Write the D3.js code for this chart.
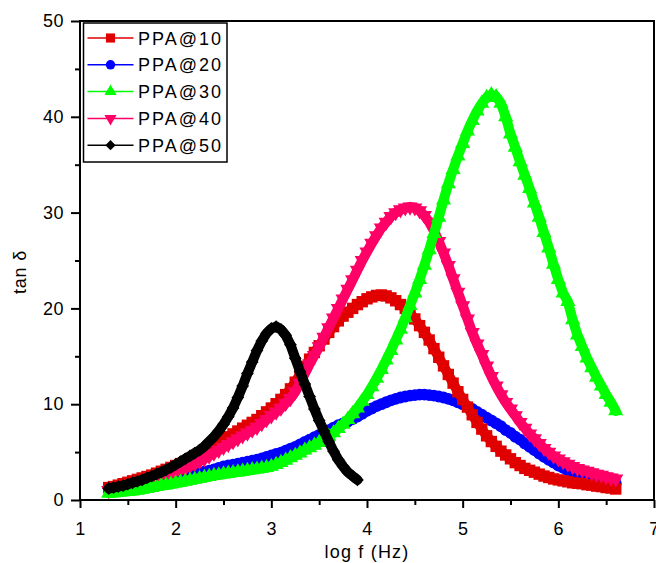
<!DOCTYPE html>
<html>
<head>
<meta charset="utf-8">
<script src="https://cdn.jsdelivr.net/npm/d3@7"></script>
<style>
  body { margin: 0; background: #fff; }
  text { font-family: "Liberation Sans", Arial, sans-serif; fill: #000; }
</style>
</head>
<body>
<div id="chart"></div>
<script>

// log f grid (Hz), common to all curves
var logF = [1.30,1.35,1.40,1.45,1.50,1.55,1.60,1.65,1.70,1.75,1.80,1.85,1.90,1.95,
	2.00,2.05,2.10,2.15,2.20,2.25,2.30,2.35,2.40,2.45,2.50,2.55,2.60,2.65,2.70,2.75,
	2.80,2.85,2.90,2.95,3.00,3.05,3.10,3.15,3.20,3.25,3.30,3.35,3.40,3.45,3.50,3.55,
	3.60,3.65,3.70,3.75,3.80,3.85,3.90,3.95,4.00,4.05,4.10,4.15,4.20,4.25,4.30,4.35,
	4.40,4.45,4.50,4.55,4.60,4.65,4.70,4.75,4.80,4.85,4.90,4.95,5.00,5.05,5.10,5.15,
	5.20,5.25,5.30,5.35,5.40,5.45,5.50,5.55,5.60,5.65,5.70,5.75,5.80,5.85,5.90,5.95,
	6.00,6.05,6.10,6.15,6.20,6.25,6.30,6.35,6.40,6.45,6.50,6.55,6.60]

var ppa10 = [1.3,1.4,1.55,1.7,1.85,2.0,2.15,2.3,2.45,2.6,2.8,3.0,3.2,3.4,
	3.6,3.8,4.0,4.2,4.5,4.8,5.1,5.4,5.7,6.0,6.3,6.6,6.9,7.2,7.5,7.8,
	8.1,8.4,8.8,9.2,9.6,10.05,10.5,11.0,11.6,12.3,13.1,13.9,14.7,15.4,16.1,16.8,
	17.5,18.1,18.7,19.2,19.6,20.0,20.4,20.7,21.0,21.2,21.35,21.4,21.3,21.1,20.8,20.4,
	20.0,19.5,18.9,18.2,17.5,16.7,15.8,14.9,14.0,13.1,12.2,11.3,10.5,9.7,8.9,8.1,
	7.4,6.7,6.1,5.6,5.1,4.7,4.3,3.9,3.6,3.3,3.1,2.9,2.7,2.5,2.35,2.2,
	2.1,2.0,1.9,1.8,1.75,1.7,1.6,1.55,1.45,1.4,1.3,1.25,1.15]

var ppa20 = [1.2,1.25,1.3,1.4,1.5,1.55,1.6,1.7,1.75,1.85,1.9,2.0,2.1,2.2,
	2.3,2.4,2.5,2.6,2.7,2.8,2.95,3.05,3.2,3.35,3.5,3.6,3.7,3.8,3.9,4.0,
	4.1,4.2,4.35,4.5,4.65,4.8,4.95,5.15,5.35,5.55,5.8,6.05,6.3,6.55,6.8,7.05,
	7.3,7.55,7.8,8.0,8.2,8.45,8.7,9.0,9.3,9.55,9.8,10.0,10.2,10.4,10.55,10.7,
	10.8,10.9,10.95,11.0,11.0,10.95,10.9,10.8,10.7,10.55,10.4,10.2,10.0,9.75,9.5,9.2,
	8.9,8.6,8.3,8.0,7.7,7.3,7.0,6.6,6.3,5.9,5.55,5.2,4.85,4.5,4.2,3.9,
	3.6,3.35,3.1,2.9,2.7,2.5,2.35,2.2,2.1,2.0,1.9,1.8,1.75]

var ppa30 = [0.7,0.75,0.8,0.85,0.9,0.95,1.0,1.1,1.2,1.3,1.4,1.5,1.55,1.65,
	1.75,1.85,1.95,2.05,2.15,2.25,2.35,2.45,2.55,2.62,2.7,2.78,2.85,2.92,3.0,3.08,
	3.15,3.22,3.3,3.38,3.5,3.7,3.9,4.15,4.4,4.65,4.9,5.2,5.45,5.7,6.0,6.3,
	6.65,7.0,7.45,7.9,8.4,9.0,9.6,10.3,11.0,11.8,12.7,13.6,14.6,15.6,16.7,17.8,
	19.0,20.3,21.6,23.0,24.5,26.1,27.8,29.5,31.3,33.0,34.5,35.9,37.2,38.5,39.6,40.6,
	41.4,42.0,42.3,42.1,41.4,40.0,38.2,36.8,35.3,33.9,32.5,31.0,29.5,27.9,26.3,24.6,
	23.0,21.6,20.7,18.8,17.2,16.0,14.8,13.8,12.8,11.9,11.0,10.2,9.3]

var ppa40 = [1.0,1.1,1.2,1.3,1.4,1.5,1.65,1.8,1.95,2.1,2.3,2.45,2.6,2.8,
	2.95,3.15,3.35,3.55,3.8,4.05,4.3,4.6,4.9,5.2,5.5,5.8,6.1,6.4,6.7,7.0,
	7.3,7.6,8.0,8.4,8.8,9.2,9.6,10.1,10.6,11.3,12.2,13.2,14.2,15.1,16.0,17.0,
	18.0,19.0,20.0,21.0,22.0,23.0,24.0,25.0,25.9,26.8,27.6,28.4,29.0,29.6,30.0,30.3,
	30.5,30.6,30.5,30.2,29.7,29.0,28.1,27.0,25.8,24.5,23.1,21.7,20.3,18.9,17.5,16.3,
	15.2,14.0,12.9,11.9,11.0,10.2,9.5,8.8,8.1,7.5,6.9,6.4,5.9,5.4,5.0,4.6,
	4.3,4.0,3.75,3.5,3.3,3.15,3.0,2.85,2.7,2.6,2.45,2.3,2.2]

// PPA@50 stops early, at log f = 3.90
var ppa50 = [1.2,1.3,1.4,1.5,1.65,1.8,1.95,2.1,2.3,2.5,2.7,2.9,3.15,3.4,
	3.7,4.0,4.3,4.6,4.9,5.2,5.6,6.1,6.6,7.2,7.9,8.7,9.6,10.7,11.9,13.2,
	14.4,15.6,16.6,17.4,17.9,18.1,17.8,17.2,16.2,14.8,13.4,12.1,10.8,9.5,8.3,7.2,
	6.1,5.1,4.2,3.5,2.9,2.5,2.1]

var seriesNames = ["PPA@10", "PPA@20", "PPA@30", "PPA@40", "PPA@50"]
var seriesValues = [ppa10, ppa20, ppa30, ppa40, ppa50]
var seriesColors = ["#e00000", "#0000ff", "#00ff00", "#ff0066", "#000000"]

var xTicks = [1, 2, 3, 4, 5, 6, 7]
var yTicks = [0, 10, 20, 30, 40, 50]

var width = 656, height = 563
var margin = {top: 21, right: 2, bottom: 63, left: 80}
var innerW = width - margin.left - margin.right
var innerH = height - margin.top - margin.bottom

var svg = d3.select("#chart").append("svg")
	.attr("width", width)
	.attr("height", height)

var features = svg.append("g").attr("transform", "translate(" + margin.left + "," + margin.top + ")")

var x = d3.scaleLinear().domain([1, 7]).range([0, innerW])
var y = d3.scaleLinear().domain([0, 50]).range([innerH, 0])

// marker shapes, one per series
var sq = d3.symbol().type(d3.symbolSquare).size(130)
var circ = d3.symbol().type(d3.symbolCircle).size(110)
var tri = d3.symbol().type(d3.symbolTriangle).size(100)
var dia = d3.symbol().type(d3.symbolSquare).size(82)
var markers = [
	{path: sq(), rot: 0, k: 0.8},
	{path: circ(), rot: 0, k: 0.8},
	{path: tri(), rot: 0, k: 0.8},
	{path: tri(), rot: 180, k: 0.8},
	{path: dia(), rot: 45, k: 0.8}
]

var line = d3.line()
	.x(function(d) { return x(d[0]) })
	.y(function(d) { return y(d[1]) })

// draw order: blue, red, pink, green, black
var order = [1, 0, 3, 2, 4]

var plot = features.append("g")

order.forEach(function(i) {
	var pts = seriesValues[i].map(function(v, j) { return [logF[j], v] })
	var g = plot.append("g").attr("class", "series")

	// markers are packed so tight in the original they read as a thick band
	g.append("path")
		.datum(pts)
		.attr("fill", "none")
		.attr("stroke", seriesColors[i])
		.attr("stroke-width", 10)
		.attr("stroke-linejoin", "round")
		.attr("stroke-linecap", "round")
		.attr("d", line)

	g.selectAll("path.mk")
		.data(pts)
		.enter().append("path")
		.attr("class", "mk")
		.attr("d", markers[i].path)
		.attr("fill", seriesColors[i])
		.attr("transform", function(d) {
			return "translate(" + x(d[0]) + "," + y(d[1]) + ") rotate(" + markers[i].rot + ")"
		})
})

// frame
features.append("rect")
	.attr("x", 0)
	.attr("y", 0)
	.attr("width", innerW)
	.attr("height", innerH)
	.attr("fill", "none")
	.attr("stroke", "#000")
	.attr("stroke-width", 2)

// axes
var xAxis = d3.axisBottom(x).tickValues(xTicks).tickSize(8).tickPadding(14).tickFormat(d3.format("d"))
var xMinor = d3.axisBottom(x).tickValues([1.5, 2.5, 3.5, 4.5, 5.5, 6.5]).tickSize(5).tickFormat("")
var yAxis = d3.axisLeft(y).tickValues(yTicks).tickSize(9).tickPadding(7).tickFormat(d3.format("d"))
var yMinor = d3.axisLeft(y).tickValues([5, 15, 25, 35, 45]).tickSize(5).tickFormat("")

function styleAxis(g) {
	g.select(".domain").remove()
	g.selectAll(".tick line").attr("stroke", "#000").attr("stroke-width", 2)
	g.selectAll(".tick text")
		.style("font-family", "'Liberation Sans', Arial, sans-serif")
		.style("font-size", "18px")
		.style("letter-spacing", "0.5px")
		.attr("fill", "#000")
}

features.append("g").attr("transform", "translate(0," + innerH + ")").call(xAxis).call(styleAxis)
features.append("g").attr("transform", "translate(0," + innerH + ")").call(xMinor).call(styleAxis)
features.append("g").call(yAxis).call(styleAxis)
features.append("g").call(yMinor).call(styleAxis)

// axis labels
svg.append("text")
	.attr("x", margin.left + x(4))
	.attr("y", 558)
	.attr("text-anchor", "middle")
	.style("font-size", "18px")
	.style("letter-spacing", "1.2px")
	.text("log f (Hz)")

svg.append("text")
	.attr("transform", "translate(26,272) rotate(-90)")
	.attr("text-anchor", "middle")
	.style("font-size", "18px")
	.style("letter-spacing", "0.8px")
	.text("tan δ")

// legend
var legend = features.append("g").attr("transform", "translate(3.5,2)")

legend.append("rect")
	.attr("x", 0)
	.attr("y", 0)
	.attr("width", 143.5)
	.attr("height", 139)
	.attr("fill", "#fff")
	.attr("stroke", "#000")
	.attr("stroke-width", 1.5)

seriesNames.forEach(function(name, i) {
	var ly = 15 + i * 26.8
	var row = legend.append("g").attr("transform", "translate(0," + ly + ")")
	row.append("line")
		.attr("x1", 4)
		.attr("x2", 50)
		.attr("stroke", seriesColors[i])
		.attr("stroke-width", 1.5)
	row.append("path")
		.attr("d", markers[i].path)
		.attr("fill", seriesColors[i])
		.attr("transform", "translate(27,0) rotate(" + markers[i].rot + ") scale(" + markers[i].k + ")")
	row.append("text")
		.attr("x", 54.5)
		.attr("y", 6.5)
		.style("font-size", "18px")
		.style("letter-spacing", "2px")
		.text(name)
})

</script>
</body>
</html>
